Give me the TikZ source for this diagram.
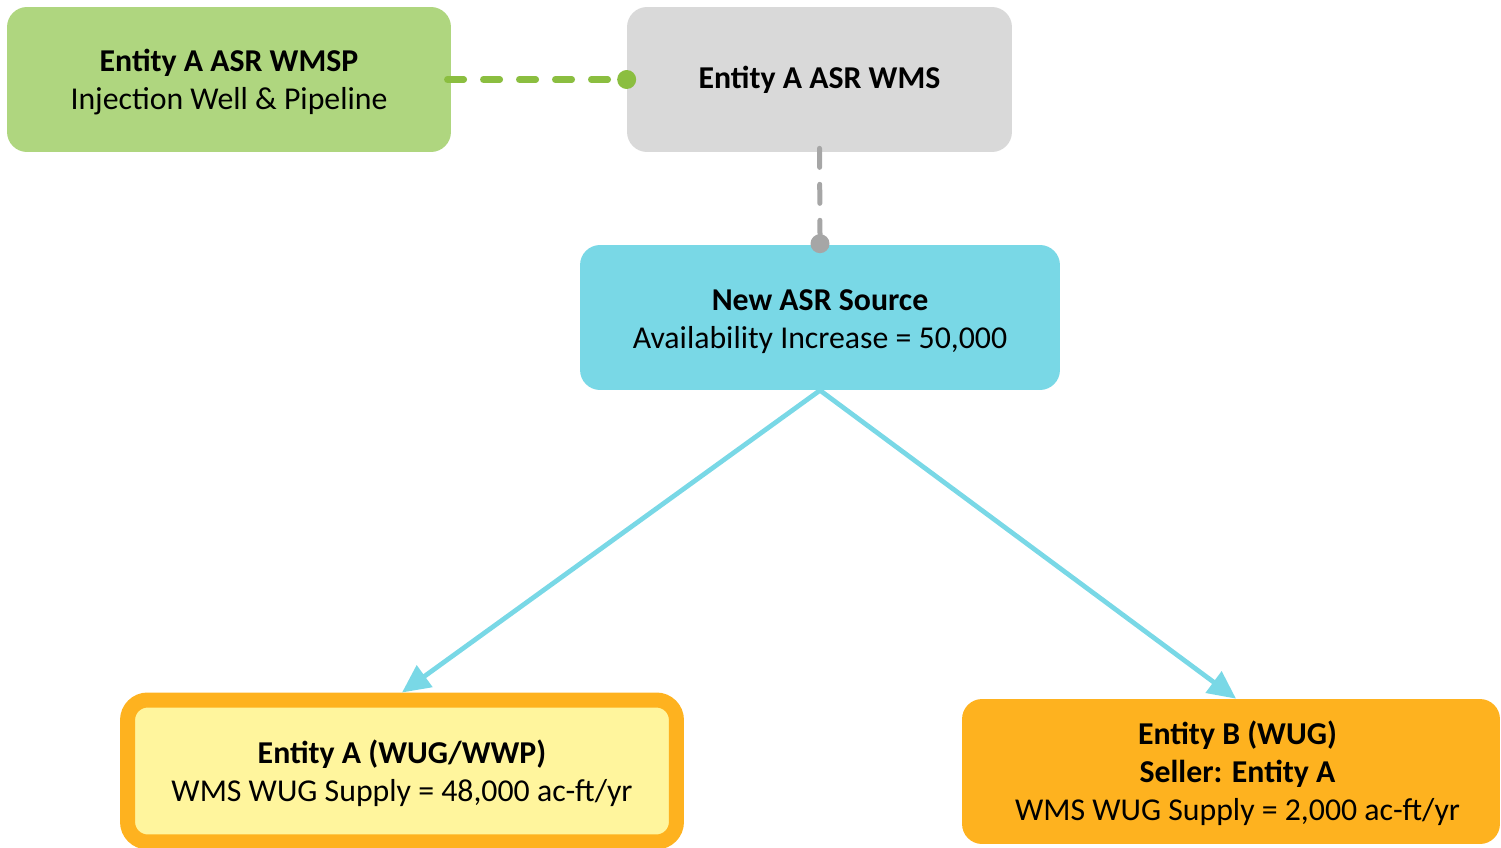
\documentclass[tikz,border=0pt]{standalone}
\usepackage{fontspec}
\setmainfont{Carlito}
\usetikzlibrary{arrows.meta}
\definecolor{boxgreen}{HTML}{AFD67F}
\definecolor{linegreen}{HTML}{8BBE40}
\definecolor{boxgray}{HTML}{D9D9D9}
\definecolor{linegray}{HTML}{A6A6A6}
\definecolor{boxcyan}{HTML}{79D8E6}
\definecolor{boxyellow}{HTML}{FFF59D}
\definecolor{boxorange}{HTML}{FEB21F}
\tikzset{
  base/.style={rectangle, rounded corners=0.4cm, inner sep=0pt},
  txt/.style={align=center, inner sep=0pt, font=\fontsize{18.1}{21.6}\selectfont, text=black},
  greenbox/.style={base, fill=boxgreen, minimum width=8.88cm, minimum height=2.9cm},
  graybox/.style={base, fill=boxgray, minimum width=7.7cm, minimum height=2.9cm},
  cyanbox/.style={base, fill=boxcyan, minimum width=9.6cm, minimum height=2.9cm},
  yellowbox/.style={base, fill=boxyellow, draw=boxorange, line width=0.3cm, minimum width=10.98cm, minimum height=2.84cm},
  orangebox/.style={base, fill=boxorange, minimum width=10.76cm, minimum height=2.9cm},
  greendash/.style={draw=linegreen, line width=0.13cm, line cap=round, dash pattern=on 0.33cm off 0.39cm},
  graydash/.style={draw=linegray, line width=0.1cm, line cap=round, dash pattern=on 0.38cm off 0.34cm},
  flow/.style={draw=boxcyan, line width=0.095cm, -{Triangle[length=0.56cm,width=0.52cm]}},
}
\begin{document}
\begin{tikzpicture}[x=0.02cm,y=-0.02cm]
\useasboundingbox (0,0) rectangle (1501,848);
\node[greenbox, label={[txt, yshift=-0.05cm]center:{\textbf{Entity A ASR WMSP}\\Injection Well \& Pipeline}}] (wmsp) at (229,79.5) {};
\node[graybox, label={[txt, yshift=-0.01cm]center:{\textbf{Entity A ASR WMS}}}] (wms) at (819.5,79.5) {};
\node[cyanbox, label={[txt, yshift=-0.08cm]center:{\textbf{New ASR Source}\\Availability Increase = 50,000}}] (src) at (820,317.5) {};
\node[yellowbox, label={[txt, yshift=-0.04cm]center:{\textbf{Entity A (WUG/WWP)}\\WMS WUG Supply = 48,000 ac-ft/yr}}] (ea) at (402,771) {};
\node[orangebox, label={[txt, xshift=0.13cm, yshift=-0.04cm]center:{\textbf{Entity B (WUG)}\\\textbf{Seller: Entity A}\\WMS WUG Supply = 2,000 ac-ft/yr}}] (eb) at (1231,771.5) {};

\draw[greendash] ([xshift=-0.08cm]wmsp.east) -- ([xshift=-0.3cm]wms.west);
\fill[linegreen] (wms.west) circle (0.19cm);
\draw[graydash] ([yshift=0.08cm]wms.south) -- ([yshift=0.2cm]src.north);
\fill[linegray] ([yshift=0.02cm]src.north) circle (0.19cm);

\draw[flow] (src.south) -- (ea.north);
\draw[flow] (src.south) -- ([xshift=0.1cm]eb.north);
\end{tikzpicture}
\end{document}
